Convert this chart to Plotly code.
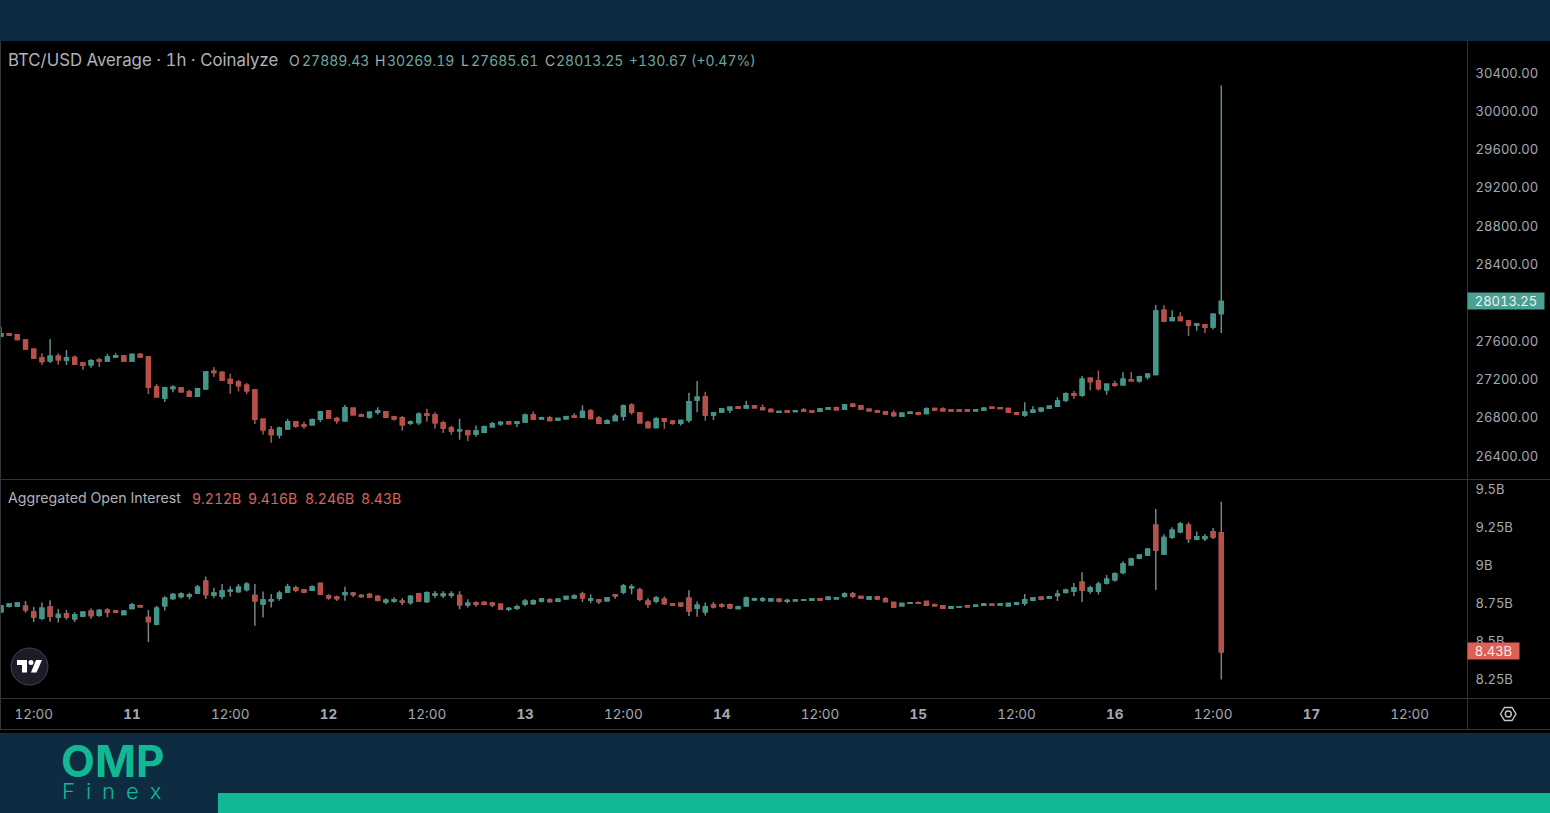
import pandas as pd
import plotly.graph_objects as go

NAVY = "#0d2b41"
GREEN = "#12b894"
TEAL = "#43968a"
RED = "#bb4f48"
TEXT = "#a6a9b1"
LINE = "#333438"
WICK_UP = "#5f8f88"
WICK_DOWN = "#96605b"
WICK_OI = "#7d8282"

FONT = "Inter, Roboto, sans-serif"

W, H = 1550, 813

# hourly candles, Oct 10 08:00 through Oct 16 13:00
times = pd.date_range("2023-10-10 08:00", periods=150, freq="h")

price_open = [
    27653, 27677, 27667, 27611, 27514, 27423, 27395, 27441, 27402, 27430,
    27371, 27354, 27402, 27392, 27434, 27444, 27392, 27461, 27434, 27120,
    27005, 27106, 27113, 27072, 27023, 27103, 27284, 27273, 27200, 27173,
    27138, 27089, 26783, 26671, 26623, 26682, 26755, 26723, 26727, 26783,
    26870, 26793, 26769, 26898, 26828, 26807, 26859, 26863, 26807,
    26800, 26741, 26751, 26838, 26828, 26748, 26696, 26664, 26664, 26630,
    26647, 26706, 26738, 26755, 26741, 26755, 26828, 26786, 26800, 26776,
    26790, 26818, 26804, 26870, 26797, 26741, 26772, 26818, 26929, 26849,
    26751, 26699, 26790, 26762, 26741, 26776, 26985, 27020, 26828, 26859,
    26884, 26912, 26901, 26926, 26905, 26887, 26856, 26873, 26866,
    26881, 26870, 26867, 26891, 26905, 26888, 26940, 26923, 26888, 26870,
    26863, 26846, 26815, 26846, 26853, 26843, 26895, 26891, 26881, 26881,
    26881, 26874, 26881, 26909, 26905, 26895, 26853, 26829, 26856, 26874,
    26898, 26919, 26982, 27051, 27034, 27212, 27184, 27093, 27152, 27145,
    27194, 27187, 27229, 27250, 27922, 27814, 27849, 27810, 27765, 27768,
    27748, 27889.43,
]
price_high = [
    27750, 27684, 27674, 27618, 27524, 27472, 27622, 27472, 27507, 27451,
    27385, 27413, 27427, 27468, 27472, 27458, 27472, 27475, 27434, 27152,
    27124, 27138, 27117, 27092, 27113, 27280, 27329, 27287, 27260, 27193,
    27162, 27099, 26790, 26713, 26706, 26790, 26769, 26758, 26793, 26866,
    26877, 26810, 26932, 26905, 26845, 26859, 26908, 26870, 26821,
    26818, 26772, 26856, 26894, 26856, 26769, 26717, 26790, 26675, 26720,
    26720, 26755, 26765, 26769, 26762, 26845, 26866, 26811, 26821, 26797,
    26821, 26849, 26929, 26891, 26818, 26783, 26842, 26939, 26950, 26849,
    26769, 26804, 26793, 26776, 26776, 27061, 27183, 27072, 26859, 26898,
    26915, 26922, 26974, 26933, 26939, 26898, 26873, 26880, 26880,
    26902, 26877, 26902, 26912, 26916, 26943, 26954, 26933, 26891, 26884,
    26870, 26877, 26850, 26863, 26863, 26909, 26902, 26909, 26891, 26884,
    26884, 26891, 26909, 26916, 26909, 26898, 26860, 26961, 26919, 26909,
    26926, 27013, 27065, 27079, 27236, 27219, 27292, 27156, 27187, 27274,
    27278, 27239, 27267, 27977, 27974, 27922, 27901, 27821, 27786, 27779,
    27883, 30269.19,
]
price_low = [
    27653, 27653, 27611, 27514, 27413, 27350, 27371, 27354, 27350, 27350,
    27301, 27322, 27329, 27385, 27427, 27385, 27388, 27427, 27047, 27016,
    26964, 27065, 27068, 27019, 27019, 27092, 27225, 27186, 27051, 27075,
    27047, 26734, 26626, 26539, 26584, 26678, 26696, 26682, 26720, 26755,
    26793, 26737, 26758, 26824, 26814, 26790, 26831, 26800, 26769,
    26664, 26724, 26724, 26758, 26685, 26640, 26623, 26570, 26553, 26602,
    26637, 26703, 26713, 26731, 26703, 26751, 26779, 26779, 26765, 26772,
    26779, 26797, 26797, 26786, 26734, 26734, 26769, 26769, 26832, 26745,
    26685, 26696, 26685, 26727, 26720, 26748, 26856, 26769, 26776, 26856,
    26849, 26891, 26898, 26901, 26880, 26856, 26849, 26852, 26863,
    26863, 26850, 26856, 26884, 26877, 26884, 26909, 26888, 26867, 26853,
    26832, 26804, 26811, 26839, 26822, 26839, 26874, 26870, 26863, 26867,
    26867, 26870, 26874, 26891, 26891, 26850, 26829, 26811, 26850, 26856,
    26895, 26916, 26961, 26996, 27020, 27086, 27083, 27041, 27121, 27142,
    27180, 27166, 27198, 27246, 27796, 27810, 27810, 27654, 27709, 27685,
    27720, 27685.61,
]
price_close = [
    27677, 27663, 27618, 27517, 27423, 27388, 27441, 27406, 27427, 27360,
    27347, 27395, 27392, 27434, 27448, 27392, 27461, 27434, 27120, 27019,
    27113, 27117, 27072, 27023, 27103, 27277, 27273, 27193, 27159, 27134,
    27082, 26783, 26675, 26626, 26689, 26758, 26713, 26713, 26779, 26863,
    26797, 26772, 26905, 26831, 26817, 26856, 26870, 26804, 26790,
    26727, 26755, 26835, 26825, 26748, 26692, 26661, 26671, 26626, 26661,
    26706, 26738, 26751, 26738, 26755, 26825, 26786, 26800, 26772, 26793,
    26811, 26804, 26866, 26793, 26741, 26769, 26814, 26926, 26856, 26748,
    26699, 26790, 26762, 26741, 26772, 26967, 27013, 26828, 26852, 26891,
    26908, 26898, 26926, 26905, 26887, 26866, 26866, 26859, 26873,
    26867, 26860, 26891, 26902, 26884, 26933, 26919, 26891, 26874, 26860,
    26839, 26822, 26846, 26856, 26839, 26891, 26881, 26874, 26870, 26870,
    26870, 26881, 26898, 26898, 26895, 26856, 26836, 26856, 26877, 26898,
    26919, 26975, 27051, 27034, 27201, 27177, 27104, 27149, 27138, 27201,
    27187, 27229, 27253, 27915, 27810, 27845, 27814, 27768, 27779, 27744,
    27880, 28013.25,
]

oi_open = [
    8.693, 8.728, 8.730, 8.728, 8.691, 8.649, 8.724, 8.656, 8.680, 8.647,
    8.664, 8.695, 8.669, 8.702, 8.697, 8.675, 8.713, 8.732, 8.654, 8.610,
    8.732, 8.779, 8.792, 8.796, 8.816, 8.893, 8.803, 8.794, 8.829, 8.825,
    8.838, 8.800, 8.743, 8.765, 8.781, 8.822, 8.849, 8.836, 8.833, 8.879,
    8.798, 8.787, 8.805, 8.814, 8.800, 8.805, 8.792, 8.757, 8.763,
    8.761, 8.754, 8.811, 8.759, 8.803, 8.800, 8.803, 8.800, 8.739, 8.750,
    8.754, 8.748, 8.741, 8.708, 8.715, 8.743, 8.746, 8.763, 8.772, 8.761,
    8.778, 8.785, 8.809, 8.770, 8.770, 8.765, 8.803, 8.820, 8.851, 8.835,
    8.761, 8.763, 8.774, 8.743, 8.748, 8.781, 8.715, 8.693, 8.737, 8.737,
    8.739, 8.713, 8.732, 8.772, 8.770, 8.765, 8.774, 8.761, 8.765,
    8.768, 8.768, 8.778, 8.774, 8.778, 8.794, 8.809, 8.792, 8.776, 8.789,
    8.778, 8.754, 8.732, 8.748, 8.752, 8.759, 8.739, 8.732, 8.715, 8.724,
    8.730, 8.728, 8.735, 8.741, 8.737, 8.732, 8.741, 8.750, 8.768, 8.787,
    8.783, 8.800, 8.820, 8.829, 8.886, 8.829, 8.829, 8.882, 8.903, 8.950,
    9.002, 9.044, 9.066, 9.261, 9.072, 9.184, 9.219, 9.261, 9.171, 9.175,
    9.217, 9.212,
]
oi_high = [
    8.735, 8.748, 8.754, 8.763, 8.724, 8.754, 8.768, 8.711, 8.704, 8.689,
    8.697, 8.713, 8.711, 8.715, 8.704, 8.704, 8.750, 8.739, 8.704, 8.732,
    8.794, 8.816, 8.820, 8.818, 8.868, 8.925, 8.851, 8.875, 8.860, 8.875,
    8.888, 8.875, 8.825, 8.809, 8.831, 8.877, 8.864, 8.842, 8.866, 8.884,
    8.807, 8.798, 8.857, 8.822, 8.809, 8.816, 8.803, 8.781, 8.787,
    8.783, 8.803, 8.818, 8.827, 8.829, 8.827, 8.827, 8.827, 8.774, 8.761,
    8.761, 8.756, 8.743, 8.724, 8.739, 8.776, 8.774, 8.783, 8.781, 8.781,
    8.796, 8.807, 8.824, 8.807, 8.776, 8.789, 8.809, 8.875, 8.873, 8.851,
    8.781, 8.796, 8.792, 8.748, 8.754, 8.833, 8.759, 8.754, 8.756, 8.748,
    8.746, 8.732, 8.792, 8.785, 8.789, 8.781, 8.781, 8.778, 8.774,
    8.774, 8.781, 8.783, 8.794, 8.789, 8.820, 8.822, 8.798, 8.796, 8.798,
    8.789, 8.757, 8.748, 8.754, 8.759, 8.765, 8.746, 8.735, 8.730, 8.728,
    8.735, 8.737, 8.748, 8.746, 8.748, 8.752, 8.757, 8.809, 8.787, 8.794,
    8.798, 8.835, 8.844, 8.882, 8.952, 8.864, 8.892, 8.934, 8.952, 9.024,
    9.048, 9.070, 9.110, 9.368, 9.202, 9.248, 9.283, 9.281, 9.221, 9.204,
    9.243, 9.416,
]
oi_low = [
    8.693, 8.721, 8.726, 8.686, 8.625, 8.636, 8.627, 8.621, 8.640, 8.625,
    8.656, 8.647, 8.658, 8.656, 8.684, 8.671, 8.708, 8.719, 8.493, 8.603,
    8.700, 8.772, 8.779, 8.774, 8.811, 8.776, 8.783, 8.774, 8.792, 8.816,
    8.825, 8.601, 8.654, 8.721, 8.765, 8.816, 8.820, 8.816, 8.829, 8.803,
    8.772, 8.765, 8.765, 8.789, 8.785, 8.785, 8.759, 8.741, 8.752,
    8.735, 8.739, 8.759, 8.750, 8.783, 8.783, 8.783, 8.708, 8.721, 8.726,
    8.735, 8.724, 8.708, 8.695, 8.704, 8.728, 8.737, 8.754, 8.752, 8.756,
    8.770, 8.776, 8.756, 8.748, 8.743, 8.763, 8.778, 8.807, 8.807, 8.761,
    8.719, 8.748, 8.737, 8.730, 8.724, 8.664, 8.660, 8.667, 8.713, 8.719,
    8.708, 8.708, 8.724, 8.763, 8.756, 8.761, 8.754, 8.748, 8.763,
    8.765, 8.763, 8.768, 8.768, 8.774, 8.785, 8.783, 8.776, 8.770, 8.770,
    8.757, 8.719, 8.730, 8.743, 8.743, 8.732, 8.730, 8.713, 8.710, 8.721,
    8.724, 8.726, 8.732, 8.735, 8.735, 8.726, 8.735, 8.732, 8.761, 8.768,
    8.776, 8.763, 8.811, 8.794, 8.757, 8.811, 8.805, 8.871, 8.890, 8.939,
    8.996, 9.037, 9.064, 8.835, 9.066, 9.171, 9.208, 9.145, 9.162, 9.158,
    9.171, 8.246,
]
oi_close = [
    8.732, 8.743, 8.750, 8.706, 8.658, 8.715, 8.662, 8.675, 8.658, 8.673,
    8.689, 8.667, 8.700, 8.689, 8.691, 8.695, 8.739, 8.726, 8.629, 8.715,
    8.781, 8.805, 8.809, 8.803, 8.853, 8.805, 8.816, 8.829, 8.833, 8.853,
    8.873, 8.765, 8.770, 8.772, 8.814, 8.857, 8.833, 8.822, 8.857, 8.809,
    8.785, 8.779, 8.818, 8.805, 8.792, 8.789, 8.768, 8.768, 8.772,
    8.756, 8.792, 8.763, 8.818, 8.809, 8.809, 8.809, 8.739, 8.748, 8.741,
    8.741, 8.739, 8.710, 8.713, 8.726, 8.761, 8.765, 8.776, 8.759, 8.774,
    8.792, 8.796, 8.785, 8.776, 8.759, 8.783, 8.798, 8.862, 8.857, 8.774,
    8.741, 8.783, 8.746, 8.735, 8.732, 8.699, 8.735, 8.726, 8.726, 8.730,
    8.719, 8.726, 8.783, 8.778, 8.776, 8.776, 8.763, 8.767, 8.770,
    8.772, 8.776, 8.770, 8.787, 8.783, 8.811, 8.796, 8.783, 8.789, 8.778,
    8.759, 8.724, 8.746, 8.752, 8.748, 8.735, 8.732, 8.715, 8.726, 8.726,
    8.726, 8.735, 8.743, 8.737, 8.743, 8.746, 8.752, 8.772, 8.783, 8.776,
    8.789, 8.807, 8.833, 8.851, 8.835, 8.851, 8.873, 8.906, 8.943, 9.007,
    9.039, 9.064, 9.103, 9.099, 9.180, 9.228, 9.270, 9.175, 9.186, 9.186,
    9.184, 8.43,
]

# 28000.00 is hidden behind the last-price badge in the reference
price_ticks = [26400, 26800, 27200, 27600, 28400, 28800, 29200, 29600, 30000, 30400]
price_tick_text = ["26400.00", "26800.00", "27200.00", "27600.00", "28400.00",
                   "28800.00", "29200.00", "29600.00", "30000.00", "30400.00"]
oi_ticks = [8.25, 8.5, 8.75, 9, 9.25, 9.5]
oi_tick_text = ["8.25B", "8.5B", "8.75B", "9B", "9.25B", "9.5B"]
time_ticks = ["2023-10-10 12:00", "2023-10-11 00:00", "2023-10-11 12:00", "2023-10-12 00:00",
              "2023-10-12 12:00", "2023-10-13 00:00", "2023-10-13 12:00", "2023-10-14 00:00",
              "2023-10-14 12:00", "2023-10-15 00:00", "2023-10-15 12:00", "2023-10-16 00:00",
              "2023-10-16 12:00", "2023-10-17 00:00", "2023-10-17 12:00"]
time_tick_text = ["12:00", "<b>11</b>", "12:00", "<b>12</b>", "12:00", "<b>13</b>", "12:00", "<b>14</b>",
                  "12:00", "<b>15</b>", "12:00", "<b>16</b>", "12:00", "<b>17</b>", "12:00"]


def fx(px):
    return px / W


def fy(py):
    return 1 - py / H


def rect(x0, y0, x1, y1, color):
    return dict(type="rect", xref="paper", yref="paper", x0=fx(x0), x1=fx(x1), y0=fy(y0), y1=fy(y1),
                fillcolor=color, line_width=0, layer="below")


def rule(x0, y0, x1, y1):
    return dict(type="line", xref="paper", yref="paper", x0=fx(x0), x1=fx(x1), y0=fy(y0), y1=fy(y1),
                line=dict(color=LINE, width=1), layer="above")


def path(points, color):
    d = "M " + " L ".join(f"{fx(x):.5f},{fy(y):.5f}" for x, y in points) + " Z"
    return dict(type="path", xref="paper", yref="paper", path=d, fillcolor=color, line_width=0, layer="above")


def label(x, y, text, color, size=14, weight=None):
    return dict(xref="paper", yref="paper", x=fx(x), y=fy(y), text=text, showarrow=False,
                xanchor="left", yanchor="middle", align="left",
                font=dict(color=color, size=size, family=FONT, weight=weight), borderpad=0)


def add_candles(fig, o, h, l, c, yaxis, wick_up, wick_down):
    # wicks first, then the bodies on top so the outline keeps the fill colour
    fig.add_trace(go.Candlestick(
        x=times, open=o, high=h, low=l, close=c, xaxis="x", yaxis=yaxis, showlegend=False,
        increasing=dict(line=dict(color=wick_up, width=1.5), fillcolor=TEAL),
        decreasing=dict(line=dict(color=wick_down, width=1.5), fillcolor=RED),
        whiskerwidth=0,
    ))
    fig.add_trace(go.Candlestick(
        x=times, open=o, close=c, xaxis="x", yaxis=yaxis, showlegend=False,
        high=[max(a, b) for a, b in zip(o, c)],
        low=[min(a, b) for a, b in zip(o, c)],
        increasing=dict(line=dict(color=TEAL, width=1.5), fillcolor=TEAL),
        decreasing=dict(line=dict(color=RED, width=1.5), fillcolor=RED),
        whiskerwidth=0,
    ))


fig = go.Figure()
add_candles(fig, price_open, price_high, price_low, price_close, "y", WICK_UP, WICK_DOWN)
add_candles(fig, oi_open, oi_high, oi_low, oi_close, "y2", WICK_OI, WICK_OI)

shapes = [
    rect(0, 41, W, 733, "#000000"),
    rect(218, 793, W, H, GREEN),
    rule(0, 479.5, W, 479.5),
    rule(0, 698.5, W, 698.5),
    rule(0, 729.5, W, 729.5),
    rule(1467.5, 41, 1467.5, 730),
    rule(0.5, 41, 0.5, 730),
    # TradingView badge
    dict(type="circle", xref="paper", yref="paper", x0=fx(11), x1=fx(48), y0=fy(685), y1=fy(648),
         fillcolor="#1c1c28", line=dict(color="#44444f", width=1), layer="above"),
    path([(17, 660), (27, 660), (27, 672.5), (22, 672.5), (22, 665), (17, 665)], "#ffffff"),
    path([(36, 660), (42, 660), (36.5, 672.5), (31, 672.5)], "#ffffff"),
    dict(type="circle", xref="paper", yref="paper", x0=fx(28.5), x1=fx(33.5), y0=fy(665), y1=fy(660),
         fillcolor="#ffffff", line_width=0, layer="above"),
    # settings gear
    dict(type="path", xref="paper", yref="paper", layer="above", line=dict(color="#c4c6cc", width=1.4),
         path="M " + " L ".join(f"{fx(x):.5f},{fy(y):.5f}" for x, y in
                                [(1500.5, 714), (1504.5, 707.5), (1512, 707.5), (1516, 714), (1512, 720.5), (1504.5, 720.5)]) + " Z"),
    dict(type="circle", xref="paper", yref="paper", x0=fx(1505.3), x1=fx(1511.3), y0=fy(717), y1=fy(711),
         line=dict(color="#c4c6cc", width=1.4), layer="above"),
]

OHLC = "#6ea89d"
OIRED = "#d9635f"
annotations = [
    label(7, 60, "BTC/USD Average · 1h · Coinalyze", "#b0b2b9", size=16.8),
    label(288, 61, "O", TEXT), label(300.5, 61, "27889.43", OHLC),
    label(374, 61, "H", TEXT), label(386, 61, "30269.19", OHLC),
    label(460, 61, "L", TEXT), label(470, 61, "27685.61", OHLC),
    label(544, 61, "C", TEXT), label(555, 61, "28013.25", OHLC),
    label(628, 61, "+130.67 (+0.47%)", OHLC),
    label(7, 498, "Aggregated Open Interest", "#b0b2b9", size=14.2),
    label(190.5, 498, "9.212B", OIRED), label(247, 498, "9.416B", OIRED),
    label(304, 498, "8.246B", OIRED), label(360, 498, "8.43B", OIRED),
    # last-value badges on the price scales
    dict(xref="paper", yref="y", x=fx(1467), y=28013.25, text="28013.25", showarrow=False, xanchor="left",
         yanchor="middle", bgcolor="#4aa193", width=76, height=16, align="center", borderpad=0, yshift=1,
         font=dict(color="#eef2f1", size=13, family=FONT)),
    dict(xref="paper", yref="y2", x=fx(1467), y=8.43, text="8.43B", showarrow=False, xanchor="left",
         yanchor="middle", bgcolor="#df5f58", width=51, height=16, align="center", borderpad=0, yshift=1,
         font=dict(color="#f4eeee", size=13, family=FONT)),
    # logo
    label(60, 761, "<b>OMP</b>", GREEN, size=44),
    label(61, 791, "F\u2002i\u2002n\u2002e\u2002x", GREEN, size=22, weight=300),
]

fig.update_layout(
    width=W,
    height=H,
    margin=dict(l=0, r=0, t=0, b=0),
    paper_bgcolor=NAVY,
    plot_bgcolor="#000000",
    font=dict(family=FONT, color=TEXT, size=14),
    showlegend=False,
    boxmode="overlay",
    boxgap=0.35,
    shapes=shapes,
    annotations=annotations,
    xaxis=dict(
        domain=[0, fx(1467)],
        range=["2023-10-10 07:53", "2023-10-17 19:00"],
        anchor="y2",
        tickvals=time_ticks,
        ticktext=time_tick_text,
        tickfont=dict(color=TEXT, size=13.5),
        tickangle=0,
        ticks="outside",
        ticklen=4,
        tickcolor="rgba(0,0,0,0)",
        showgrid=False,
        zeroline=False,
        showline=False,
        rangeslider=dict(visible=False),
    ),
    yaxis=dict(
        domain=[fy(479), fy(41)],
        range=[26160, 30734],
        side="right",
        anchor="x",
        tickvals=price_ticks,
        ticktext=price_tick_text,
        tickfont=dict(color=TEXT, size=13),
        ticks="outside",
        ticklen=5,
        tickcolor="rgba(0,0,0,0)",
        showgrid=False,
        zeroline=False,
    ),
    yaxis2=dict(
        domain=[fy(698), fy(480)],
        range=[8.125, 9.559],
        side="right",
        anchor="x",
        tickvals=oi_ticks,
        ticktext=oi_tick_text,
        tickfont=dict(color=TEXT, size=13),
        ticks="outside",
        ticklen=5,
        tickcolor="rgba(0,0,0,0)",
        showgrid=False,
        zeroline=False,
    ),
)

page_fix = """
document.body.style.margin = '0';
document.body.style.overflow = 'hidden';
var s = document.createElement('style');
s.textContent = 'svg text { font-feature-settings: "tnum"; }';
document.head.appendChild(s);
"""
fig.write_html("out.html", config=dict(displayModeBar=False), post_script=page_fix)
